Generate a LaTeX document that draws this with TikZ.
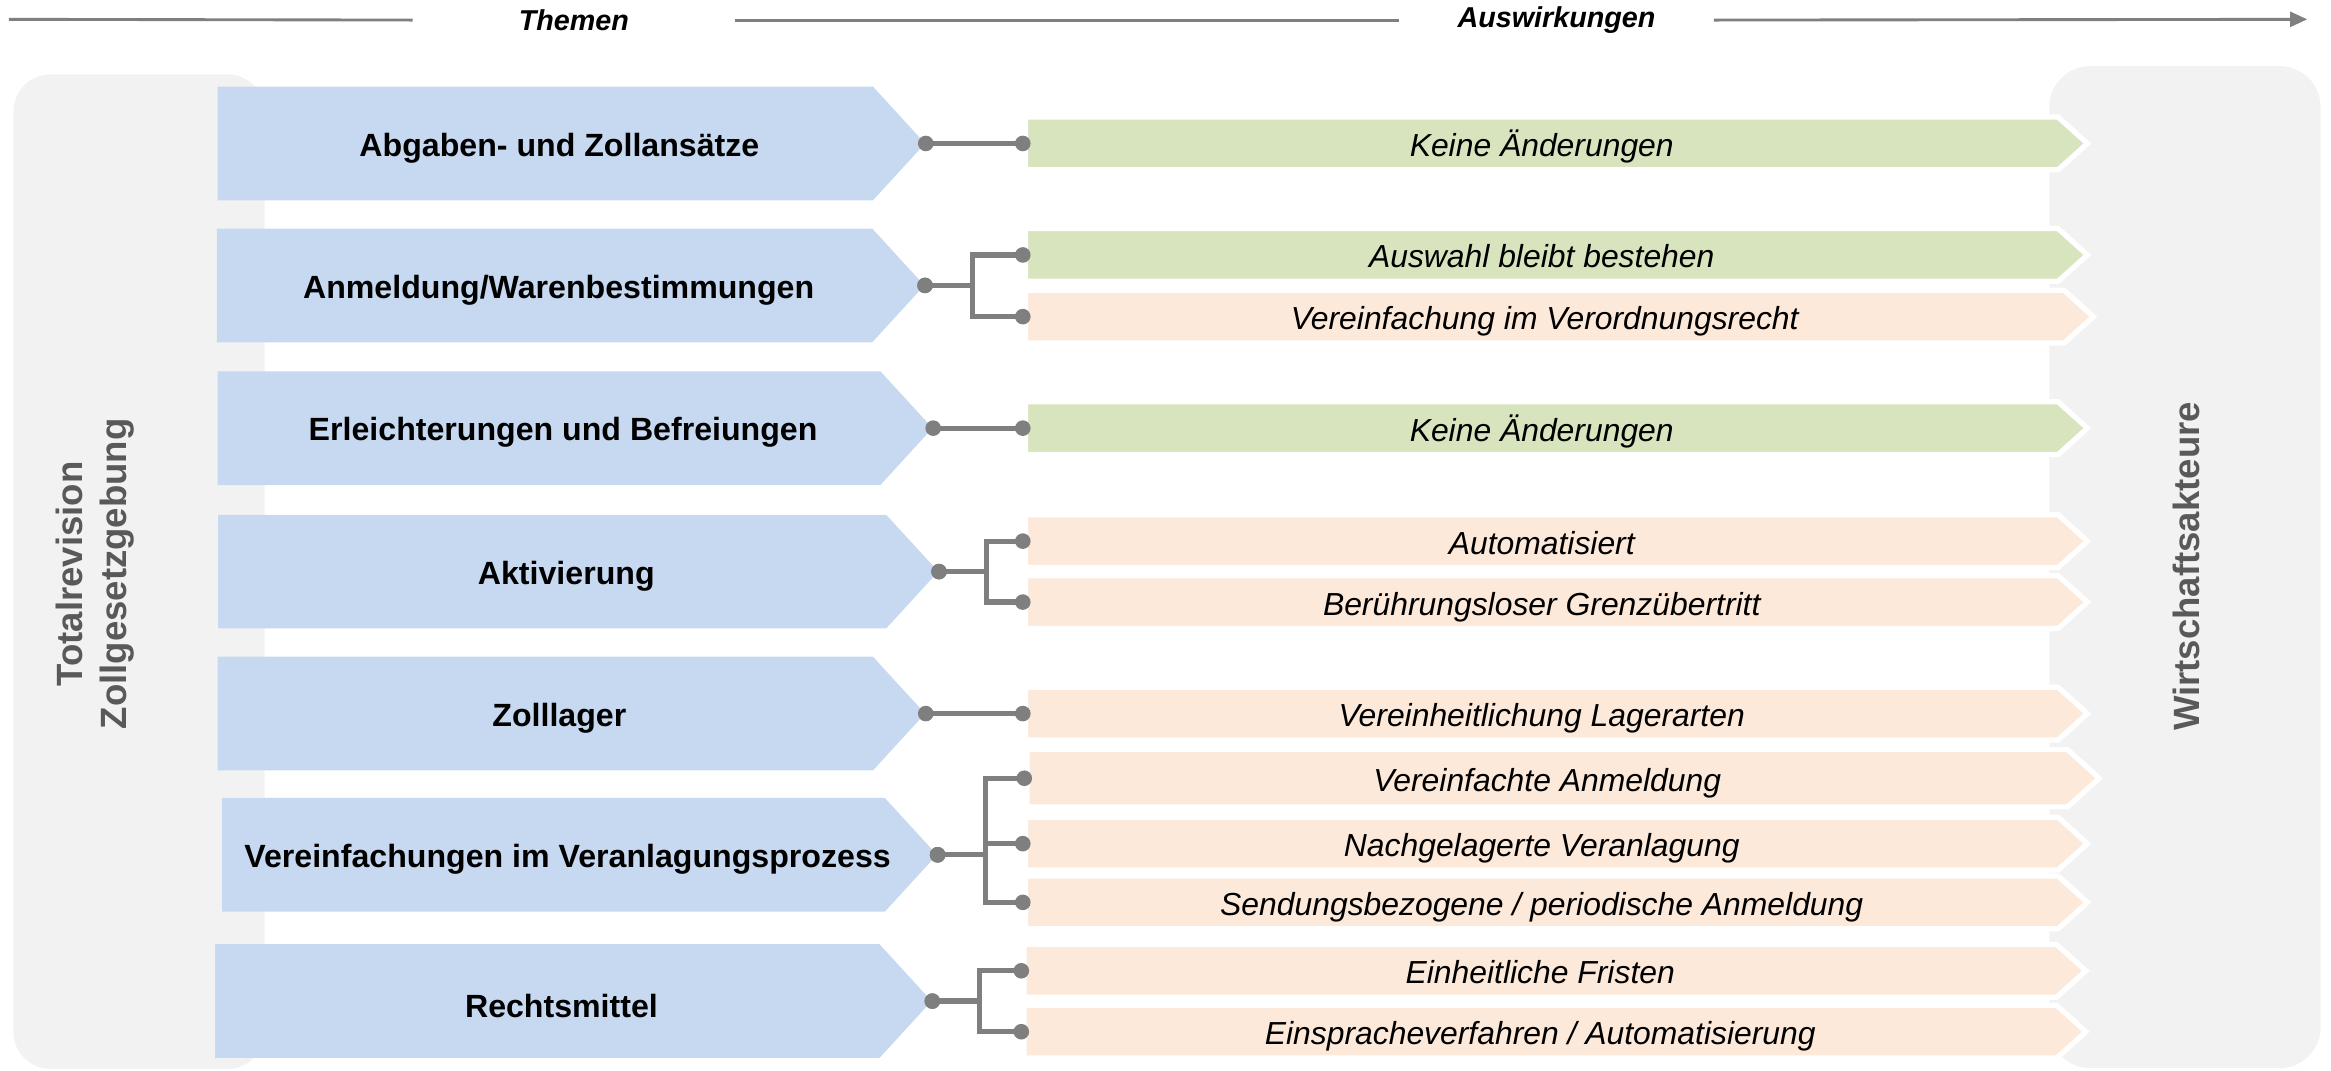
\documentclass[tikz,border=0pt]{standalone}
\usepackage{fontspec}
\setmainfont{Liberation Sans}
\usepackage{xcolor}
\usepackage{tikz}
\usetikzlibrary{arrows.meta,shapes.symbols}
\definecolor{themablau}{RGB}{198,217,240}
\definecolor{gruen}{RGB}{215,228,189}
\definecolor{apricot}{RGB}{252,233,218}
\definecolor{boxgrau}{RGB}{242,242,242}
\definecolor{textgrau}{RGB}{89,89,89}
\definecolor{liniengrau}{RGB}{127,127,127}
\tikzset{
  thema/.style={signal, signal to=east, signal pointer angle=95, fill=themablau, minimum height=1.53cm, minimum width=9.52cm, inner sep=0pt},
  themalabel/.style={font=\bfseries\fontsize{12.3}{14}\selectfont, xshift=1.9mm, yshift=-0.6mm},
  wirkung/.style={signal, signal to=east, signal pointer angle=84, draw=white, line width=2pt, minimum height=0.71cm, minimum width=14.29cm, inner sep=0pt, text height=0.38cm, text depth=0.03cm, font=\itshape\fontsize{12.2}{14}\selectfont},
  gleich/.style={wirkung, fill=gruen},
  neu/.style={wirkung, fill=apricot},
  seite/.style={rotate=90, align=center, text=textgrau, font=\bfseries\fontsize{14}{17}\selectfont},
  kopf/.style={font=\bfseries\itshape\fontsize{11}{13}\selectfont},
  kopflinie/.style={draw=liniengrau, line width=1.1pt},
  verbinder/.style={draw=liniengrau, line width=2pt}
}
\begin{document}
\begin{tikzpicture}[x=0.02cm, y=-0.02cm]
\useasboundingbox (0,0) rectangle (1568,720);
\fill[boxgrau, rounded corners=0.5cm] (9,50) rectangle (178,719);
\fill[boxgrau, rounded corners=0.55cm] (1378.5,44.5) rectangle (1561,718.5);
\node[seite] (revision) at (64,386) {Totalrevision\\Zollgesetzgebung};
\node[seite] (akteure) at (1471,381) {Wirtschaftsakteure};

\coordinate (anfang) at (6,13);
\coordinate (ende) at (1552,13);
\node[kopf, inner xsep=1.42cm] (themen) at (386,13.5) {Themen};
\node[kopf, inner xsep=0.78cm] (auswirkungen) at (1047,13.5) {Auswirkungen};
\draw[kopflinie] (anfang) -- (themen.west);
\draw[kopflinie] (themen.east) -- (auswirkungen.west);
\draw[kopflinie, -{Triangle[length=2.3mm, width=2mm]}] (auswirkungen.east) -- (ende);

\node[thema, anchor=west, label={[themalabel]center:Abgaben- und Zollansätze}] (t1) at (146,96.5) {};
\node[thema, anchor=west, label={[themalabel]center:Anmeldung/Warenbestimmungen}] (t2) at (145.5,192) {};
\node[thema, anchor=west, minimum width=9.62cm, label={[themalabel]center:Erleichterungen und Befreiungen}] (t3) at (146,288) {};
\node[thema, anchor=west, minimum width=9.69cm, label={[themalabel]center:Aktivierung}] (t4) at (146.4,384.5) {};
\node[thema, anchor=west, label={[themalabel]center:Zolllager}] (t5) at (146,480) {};
\node[thema, anchor=west, minimum width=9.62cm, label={[themalabel]center:Vereinfachungen im Veranlagungsprozess}] (t6) at (149,575) {};
\node[thema, anchor=west, minimum width=9.64cm, label={[themalabel]center:Rechtsmittel}] (t7) at (144.4,673.4) {};

\node[gleich, anchor=west] (w1) at (688,96.5) {Keine Änderungen};
\node[gleich, anchor=west] (w2a) at (688,171.5) {Auswahl bleibt bestehen};
\node[neu, anchor=west, minimum width=14.37cm] (w2b) at (688,213) {Vereinfachung im Verordnungsrecht};
\node[gleich, anchor=west] (w3) at (688,288) {Keine Änderungen};
\node[neu, anchor=west] (w4a) at (688,364) {Automatisiert};
\node[neu, anchor=west] (w4b) at (688,405) {Berührungsloser Grenzübertritt};
\node[neu, anchor=west] (w5) at (688,480) {Vereinheitlichung Lagerarten};
\node[neu, anchor=west, minimum height=0.77cm, minimum width=14.43cm] (w6a) at (689,523.5) {Vereinfachte Anmeldung};
\node[neu, anchor=west] (w6b) at (688,567.5) {Nachgelagerte Veranlagung};
\node[neu, anchor=west] (w6c) at (688,607) {Sendungsbezogene / periodische Anmeldung};
\node[neu, anchor=west] (w7a) at (687,653) {Einheitliche Fristen};
\node[neu, anchor=west] (w7b) at (687,694) {Einspracheverfahren / Automatisierung};

\foreach \von/\nach in {t1/w1, t2/w2a, t2/w2b, t3/w3, t4/w4a, t4/w4b, t5/w5, t6/w6a, t6/w6b, t6/w6c, t7/w7a, t7/w7b} {
  \draw[verbinder] (\von.east) -- ++(32,0) |- (\nach.west);
  \fill[liniengrau] (\von.east) circle (1.05mm) (\nach.west) circle (1.05mm);
}
\end{tikzpicture}
\end{document}
